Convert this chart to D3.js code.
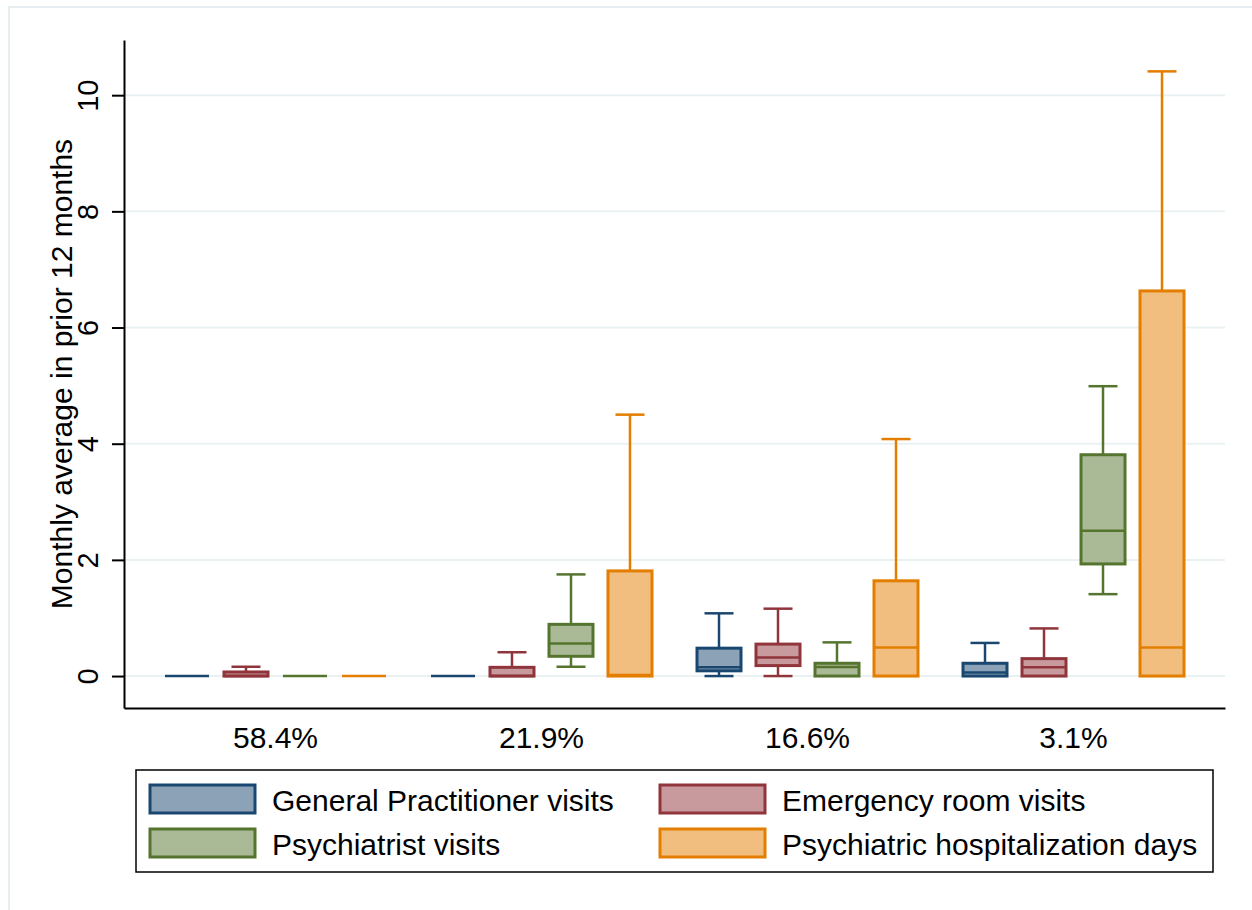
<!DOCTYPE html>
<html>
<head>
<meta charset="utf-8">
<script src="https://cdn.jsdelivr.net/npm/d3@7"></script>
<style>
  html, body { margin: 0; padding: 0; background: #fff; }
  svg { display: block; }
  text { font-family: "Liberation Sans", Arial, Helvetica, sans-serif; fill: #000; }
</style>
</head>
<body>
<svg id="chart" width="1252" height="910"></svg>
<script>
// ---- data ----
const groups = ["58.4%", "21.9%", "16.6%", "3.1%"];
const seriesNames = ["General Practitioner visits", "Emergency room visits", "Psychiatrist visits", "Psychiatric hospitalization days"];
const yTicks = [0, 2, 4, 6, 8, 10];
// each entry: [lower whisker, q1, median, q3, upper whisker] per group
const gpStats   = [[0,0,0,0,0], [0,0,0,0,0], [0,0.09,0.15,0.48,1.08], [0,0,0.06,0.22,0.57]];
const erStats   = [[0,0,0,0.07,0.16], [0,0,0,0.15,0.41], [0,0.18,0.32,0.55,1.16], [0,0,0.15,0.30,0.82]];
const psyStats  = [[0,0,0,0,0], [0.16,0.34,0.56,0.89,1.75], [0,0,0.155,0.22,0.58], [1.41,1.93,2.50,3.81,4.99]];
const hospStats = [[0,0,0,0,0], [0,0,0.02,1.81,4.50], [0,0,0.49,1.64,4.08], [0,0,0.49,6.63,10.41]];
const lineColors = ["#1a476f", "#90353b", "#55752f", "#e37e00"];
const fillColors = ["#8ca3b7", "#c89a9d", "#aaba97", "#f1be7f"];

const allStats = [gpStats, erStats, psyStats, hospStats];

const svg = d3.select("#chart");

// outer frame
svg.append("rect").attr("x", 9).attr("y", 7).attr("width", 1270).attr("height", 930)
  .attr("fill", "none").attr("stroke", "#e6eef1").attr("stroke-width", 2);

const y = d3.scaleLinear().domain([-0.55, 10.95]).range([708, 40]);
const x = d3.scaleBand().domain(groups).range([124, 1225]).paddingInner(0).paddingOuter(0.0695);
const xi = d3.scaleBand().domain(seriesNames).range([-110.5, 110.5]).paddingInner(15/59).paddingOuter(0);

// grid
svg.append("g").selectAll("line").data(yTicks).join("line")
  .attr("x1", 124).attr("x2", 1225)
  .attr("y1", d => y(d)).attr("y2", d => y(d))
  .attr("stroke", "#eaf1f3").attr("stroke-width", 2);

// boxes
const gBoxes = svg.append("g");
allStats.forEach((stats, si) => {
  const name = seriesNames[si];
  stats.forEach((s, gi) => {
    const cx = x(groups[gi]) + x.bandwidth() / 2 + xi(name) + xi.bandwidth() / 2;
    const bw = xi.bandwidth();
    const cap = 29;
    const g = gBoxes.append("g");
    const col = lineColors[si];
    // whiskers
    if (s[4] > s[3]) {
      g.append("line").attr("x1", cx).attr("x2", cx).attr("y1", y(s[3])).attr("y2", y(s[4]))
        .attr("stroke", col).attr("stroke-width", 2.5);
      g.append("line").attr("x1", cx - cap/2).attr("x2", cx + cap/2).attr("y1", y(s[4])).attr("y2", y(s[4]))
        .attr("stroke", col).attr("stroke-width", 2.5);
    }
    if (s[0] < s[1]) {
      g.append("line").attr("x1", cx).attr("x2", cx).attr("y1", y(s[1])).attr("y2", y(s[0]))
        .attr("stroke", col).attr("stroke-width", 2.5);
      g.append("line").attr("x1", cx - cap/2).attr("x2", cx + cap/2).attr("y1", y(s[0])).attr("y2", y(s[0]))
        .attr("stroke", col).attr("stroke-width", 2.5);
    }
    g.append("rect").attr("x", cx - bw/2).attr("width", bw)
      .attr("y", y(s[3])).attr("height", Math.max(0, y(s[1]) - y(s[3])))
      .attr("fill", fillColors[si]).attr("stroke", col).attr("stroke-width", 3);
    g.append("line").attr("x1", cx - bw/2).attr("x2", cx + bw/2).attr("y1", y(s[2])).attr("y2", y(s[2]))
      .attr("stroke", col).attr("stroke-width", 2.5);
  });
});

// y axis
const yAxis = d3.axisLeft(y).tickValues(yTicks).tickSize(12).tickSizeOuter(0).tickFormat(d3.format("d"));
const gy = svg.append("g").attr("transform", "translate(124,0)").call(yAxis);
gy.select(".domain").attr("stroke", "#000").attr("stroke-width", 2);
gy.selectAll(".tick line").attr("stroke", "#000").attr("stroke-width", 2);
gy.selectAll(".tick text")
  .attr("x", null).attr("dy", null)
  .attr("transform", "translate(-26,0) rotate(-90)")
  .attr("text-anchor", "middle")
  .style("font-size", "29px")
  .style("font-family", "'Liberation Sans', Arial, sans-serif")
  .attr("fill", "#000");

// x axis
const xAxis = d3.axisBottom(x).tickSize(0).tickSizeOuter(0).tickPadding(19);
const gx = svg.append("g").attr("transform", "translate(0,708)").call(xAxis);
gx.select(".domain").attr("stroke", "#000").attr("stroke-width", 2);
gx.selectAll(".tick text").style("font-size", "30px")
  .style("font-family", "'Liberation Sans', Arial, sans-serif").attr("fill", "#000");

// y label
svg.append("text").attr("transform", "translate(72,374) rotate(-90)")
  .attr("text-anchor", "middle").style("font-size", "30px")
  .text("Monthly average in prior 12 months");

// legend
const leg = svg.append("g");
leg.append("rect").attr("x", 136).attr("y", 770).attr("width", 1077).attr("height", 102)
  .attr("fill", "#fff").attr("stroke", "#000").attr("stroke-width", 1.5);
const legPos = [[150, 785], [660, 785], [150, 829], [660, 829]];
seriesNames.forEach((n, i) => {
  const [lx, ly] = legPos[i];
  leg.append("rect").attr("x", lx).attr("y", ly).attr("width", 105).attr("height", 28)
    .attr("fill", fillColors[i]).attr("stroke", lineColors[i]).attr("stroke-width", 3);
  leg.append("text").attr("x", lx + 122).attr("y", ly + 26).style("font-size", "30px").text(n);
});
</script>
</body>
</html>
